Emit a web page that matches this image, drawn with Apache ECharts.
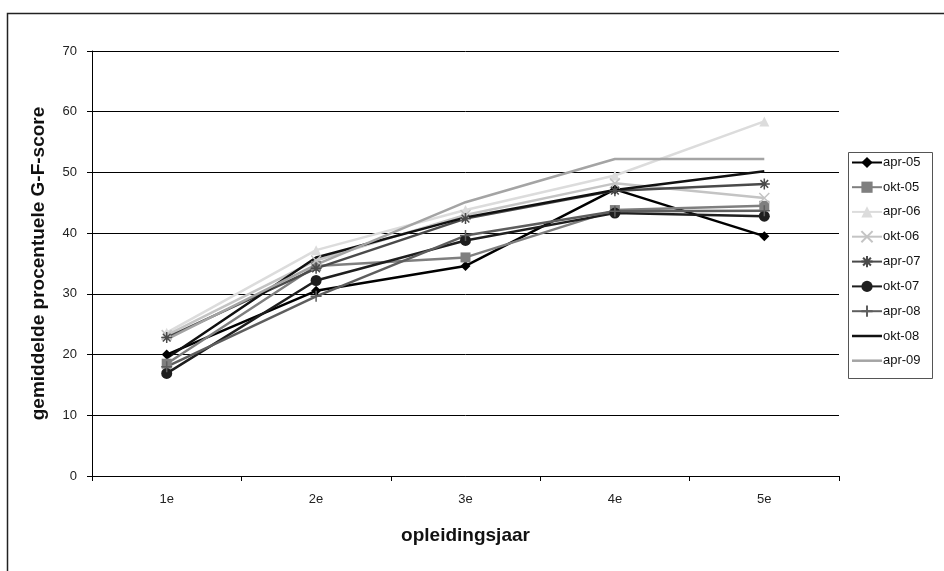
<!DOCTYPE html>
<html>
<head>
<meta charset="utf-8">
<script src="https://cdn.jsdelivr.net/npm/echarts@6/dist/echarts.min.js"></script>
<style>
  html, body { margin: 0; padding: 0; background: #fff; }
  #chart { width: 944px; height: 571px; }
</style>
</head>
<body>
<div id="chart"></div>
<script>
// categorieen (x-as)
const jaren = ["1e", "2e", "3e", "4e", "5e"];

// gemiddelde procentuele G-F-score per meetmoment
const apr05 = [20.0, 30.5, 34.6, 47.2, 39.5];
const okt05 = [18.5, 34.6, 36.0, 43.8, 44.5];
const apr06 = [23.6, 37.2, 43.8, 49.5, 58.4];
const okt06 = [23.2, 35.5, 43.0, 48.2, 45.8];
const apr07 = [22.8, 34.2, 42.4, 47.0, 48.1];
const okt07 = [16.9, 32.2, 38.8, 43.3, 42.8];
const apr08 = [18.0, 29.6, 39.6, 43.6, 43.7];
const okt08 = [19.4, 36.0, 42.6, 47.1, 50.2];
const apr09 = [22.5, 34.8, 45.1, 52.2, 52.2];

const yTicks = [0, 10, 20, 30, 40, 50, 60, 70];

const starPath = "path://M5,0L5,10M0,5L10,5M1.5,1.5L8.5,8.5M8.5,1.5L1.5,8.5";
const crossPath = "path://M1,1L9,9M9,1L1,9";
const plusPath = "path://M5,0L5,10M0,5L10,5";
const lineIcon = "path://M0,0L30,0L30,2.5L0,2.5Z";

const seriesDefs = [
  { name: "apr-05", data: apr05, color: "#000000", symbol: "diamond", size: 10 },
  { name: "okt-05", data: okt05, color: "#7f7f7f", symbol: "rect", size: 10 },
  { name: "apr-06", data: apr06, color: "#dcdcdc", symbol: "triangle", size: 10 },
  { name: "okt-06", data: okt06, color: "#c4c4c4", symbol: crossPath, size: 10 },
  { name: "apr-07", data: apr07, color: "#4a4a4a", symbol: starPath, size: 11 },
  { name: "okt-07", data: okt07, color: "#1e1e1e", symbol: "circle", size: 11 },
  { name: "apr-08", data: apr08, color: "#5e5e5e", symbol: plusPath, size: 11 },
  { name: "okt-08", data: okt08, color: "#111111", symbol: "none", size: 0 },
  { name: "apr-09", data: apr09, color: "#a4a4a4", symbol: "none", size: 0 }
];

const chart = echarts.init(document.getElementById("chart"));
chart.setOption({
  animation: false,
  backgroundColor: "#fff",
  textStyle: { fontFamily: "Liberation Sans, Arial, sans-serif" },
  graphic: [
    {
      type: "rect",
      left: 5, top: 11,
      shape: { width: 960, height: 580 },
      style: { fill: "none", stroke: "#222", lineWidth: 1.5 },
      silent: true
    },
    {
      type: "rect",
      left: 846, top: 150,
      shape: { width: 84, height: 226 },
      style: { fill: "none", stroke: "#555", lineWidth: 1 },
      silent: true
    }
  ],
  legend: {
    orient: "vertical",
    left: 851,
    top: 156,
    itemWidth: 30,
    itemHeight: 14,
    itemGap: 11.7,
    padding: 0,
    textStyle: { fontSize: 13, color: "#111", padding: [0, 0, 0, -4] },
    data: seriesDefs.map(s => (s.symbol === "none"
      ? { name: s.name, icon: lineIcon, itemStyle: { color: s.color } }
      : s.name))
  },
  grid: { left: 92, right: 105, top: 51, bottom: 95 },
  xAxis: {
    type: "category",
    data: jaren,
    boundaryGap: true,
    name: "opleidingsjaar",
    nameLocation: "middle",
    nameGap: 50,
    nameTextStyle: { fontSize: 19, fontWeight: "bold", color: "#111" },
    axisLine: { lineStyle: { color: "#000", width: 1 } },
    axisTick: { show: true, length: 5, lineStyle: { color: "#000" } },
    axisLabel: { fontSize: 13, color: "#222", margin: 17 }
  },
  yAxis: {
    type: "value",
    min: 0,
    max: 70,
    interval: 10,
    name: "gemiddelde procentuele G-F-score",
    nameLocation: "middle",
    nameGap: 44,
    nameTextStyle: { fontSize: 19, fontWeight: "bold", color: "#111" },
    axisLine: { show: true, lineStyle: { color: "#000", width: 1 } },
    axisTick: { show: true, length: 5, lineStyle: { color: "#000" } },
    axisLabel: {
      fontSize: 13, color: "#222", margin: 15,
      formatter: v => (yTicks.indexOf(v) >= 0 ? String(v) : "")
    },
    splitLine: { show: true, lineStyle: { color: "#000", width: 1 } }
  },
  series: seriesDefs.map(s => ({
    name: s.name,
    type: "line",
    data: s.data,
    symbol: s.symbol,
    symbolSize: s.size,
    showSymbol: s.symbol !== "none",
    lineStyle: { color: s.color, width: 2.5 },
    itemStyle: {
      color: s.color,
      borderColor: s.color,
      borderWidth: (s.symbol.indexOf("path://") === 0) ? 1.5 : 0
    }
  }))
});
</script>
</body>
</html>
